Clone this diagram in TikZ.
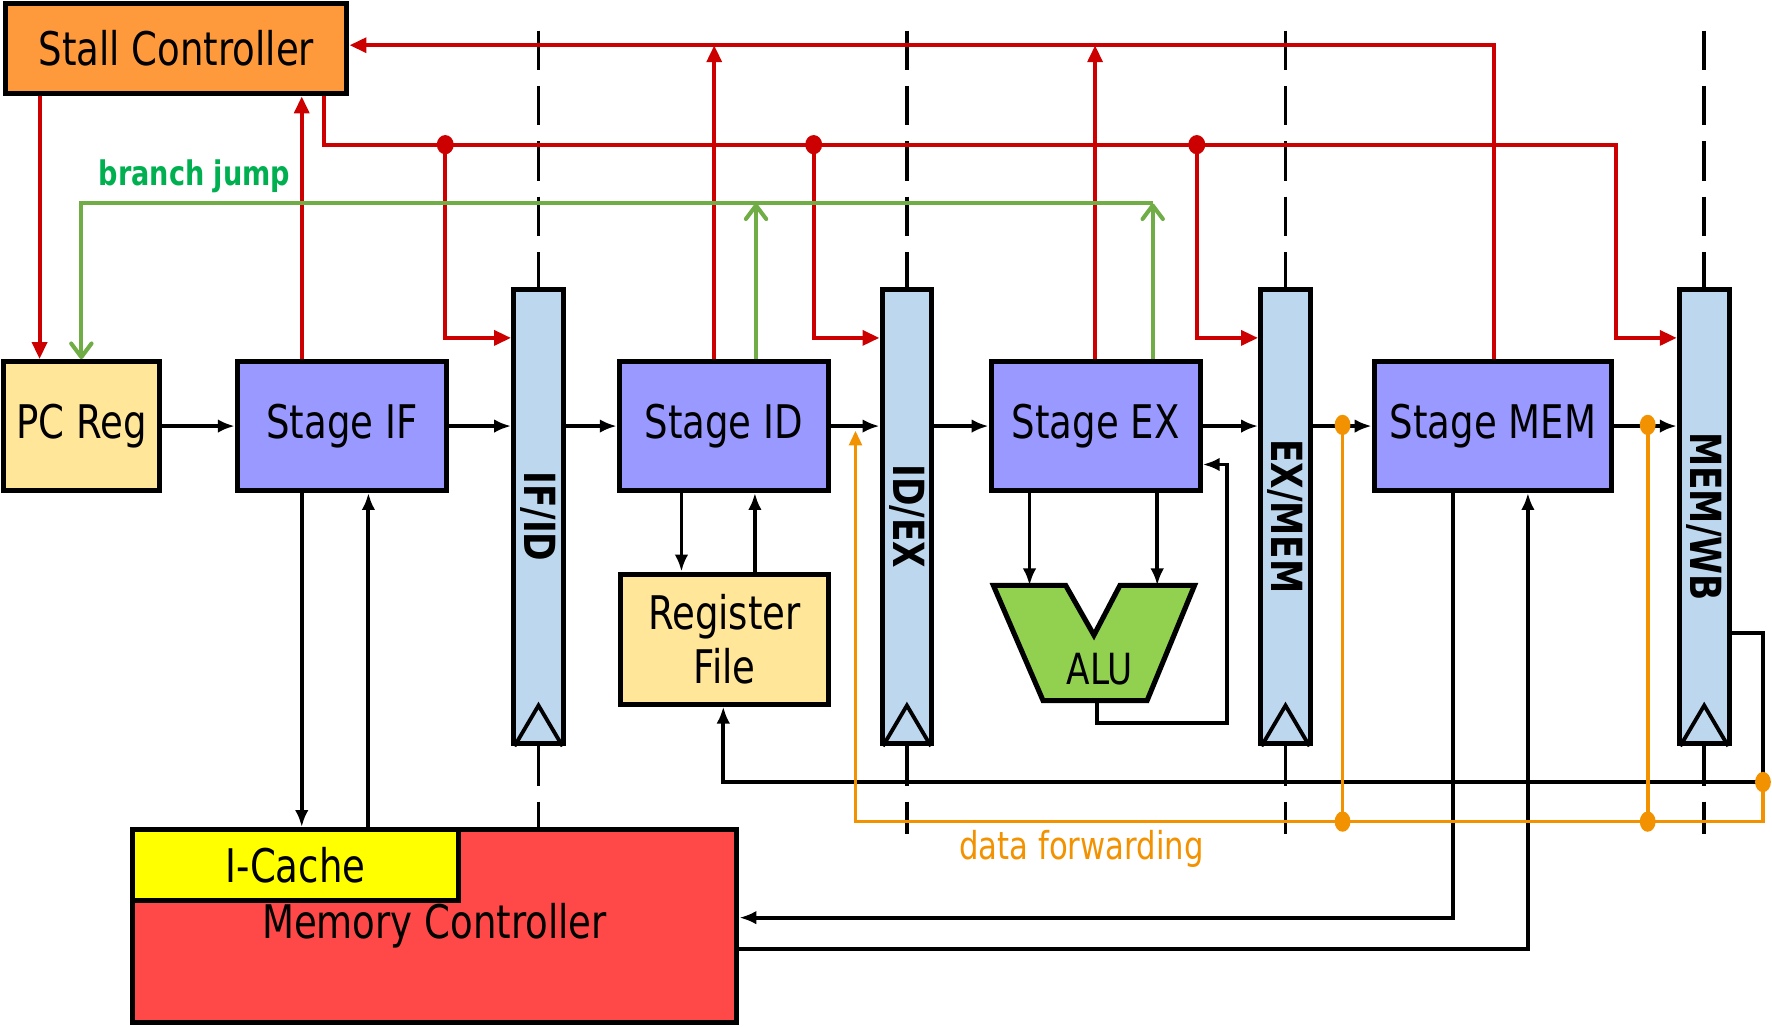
\documentclass[tikz,border=0pt]{standalone}
\usepackage{fontspec}
\setmainfont{DejaVu Sans}[FakeStretch=0.8]
\usetikzlibrary{arrows.meta,calc}
\definecolor{stallC}{HTML}{FF9A3C}
\definecolor{pcC}{HTML}{FFE699}
\definecolor{stageC}{HTML}{9999FF}
\definecolor{regC}{HTML}{BDD7EE}
\definecolor{aluC}{HTML}{92D050}
\definecolor{memC}{HTML}{FF4848}
\definecolor{icC}{HTML}{FFFF00}
\definecolor{redL}{HTML}{CC0000}
\definecolor{grnL}{HTML}{70AD47}
\definecolor{grnT}{HTML}{00B050}
\definecolor{orgL}{HTML}{F39200}
\begin{document}
\begin{tikzpicture}[x=1pt,y=-1pt,
  box/.style={draw=black,line width=4.5pt,inner sep=0pt,font=\fontsize{41}{48}\selectfont,align=center},
  stagebox/.style={box,fill=stageC,minimum width=185pt,minimum height=114pt},
  pipereg/.style={box,fill=regC,minimum width=44pt,minimum height=402pt},
  reglabel/.style={font=\bfseries\fontsize{38}{46}\selectfont,rotate=-90,inner sep=0pt},
  blk/.style={draw=black,line width=3.4pt,-{Latex[length=15pt,width=12pt]}},
  redarr/.style={draw=redL,line width=3.6pt,-{Triangle[length=15pt,width=13pt]}},
  grnarr/.style={draw=grnL,line width=3.6pt,-{Straight Barb[length=12pt,width=18pt,round]}},
  orgline/.style={draw=orgL,line width=3.2pt},
  orgarr/.style={orgline,-{Triangle[length=13pt,width=11pt]}},
  regdash/.style={draw=black,line width=3.4pt,dash pattern=on 35pt off 14pt},
  clk/.style={draw=black,line width=3.4pt,line join=miter},
]
\useasboundingbox (0,0) rectangle (1568,908);

% ---------- nodes ----------
\node[box,fill=stallC,minimum width=302pt,minimum height=80pt] (stall) at (156,43) {Stall Controller};
\node[box,fill=pcC,minimum width=138pt,minimum height=114pt] (pc) at (72,377) {PC Reg};
\node[stagebox] (sif) at (302.5,377) {Stage IF};
\node[stagebox] (sid) at (640.5,377) {Stage ID};
\node[stagebox] (sex) at (969.5,377) {Stage EX};
\node[stagebox,minimum width=210pt] (smem) at (1321,377) {Stage MEM};
\node[box,fill=pcC,minimum width=184pt,minimum height=115pt] (rf) at (641,565.5) {Register\\File};
\node[pipereg] (ifid) at (476.5,457) {};
\node[pipereg] (idex) at (802.5,457) {};
\node[pipereg] (exmem) at (1137.5,457) {};
\node[pipereg] (memwb) at (1508,457) {};
\node[reglabel] (ifidl) at (ifid) {IF/ID};
\node[reglabel] (idexl) at (idex) {ID/EX};
\node[reglabel] (exmeml) at (exmem) {EX/MEM};
\node[reglabel] (memwbl) at (memwb) {MEM/WB};
\foreach \r in {ifid,idex,exmem,memwb}{
  \draw[clk] ($(\r.south west)+(3,0)$) -- ($(\r.south)+(0,-36)$) -- ($(\r.south east)+(-3,0)$);
}
\node[box,fill=memC,minimum width=535pt,minimum height=171pt] (mem) at (384.5,819.5) {Memory Controller};
\node[box,fill=icC,minimum width=289pt,minimum height=63pt] (icache) at (261.5,765.5) {I-Cache};

% ALU
\coordinate (aluA) at (911,518);
\coordinate (aluB) at (1024,518);
\coordinate (aluO) at (971,620);
\draw[line width=4.5pt,fill=aluC,line join=miter] (879,518) -- (943,518) -- (968,562) -- (991,518) -- (1057,518) -- (1015,620) -- (923,620) -- cycle;
\node[font=\fontsize{38}{46}\selectfont,inner sep=0pt] (alu) at (973,592) {ALU};

% ---------- pipeline boundary dashes ----------
\foreach \r in {ifid,idex,exmem,memwb}{
  \draw[regdash] (\r.north |- 0,27) -- (\r.north);
}
\draw[regdash] (ifid.south) -- (ifid.south |- mem.north);
\foreach \r in {idex,exmem,memwb}{
  \draw[regdash] (\r.south) -- (\r.south |- 0,738);
}

% ---------- black datapath ----------
\draw[blk] (pc.east) -- (sif.west);
\draw[blk] (sif.east) -- (ifid.west |- sif.east);
\draw[blk] (ifid.east |- sid.west) -- (sid.west);
\draw[blk] (sid.east) -- (idex.west |- sid.east);
\draw[blk] (idex.east |- sex.west) -- (sex.west);
\draw[blk] (sex.east) -- (exmem.west |- sex.east);
\draw[blk] (exmem.east |- smem.west) -- (smem.west);
\draw[blk] (smem.east) -- (memwb.west |- smem.east);

\draw[blk] (267,0 |- sif.south) -- (267,0 |- icache.north);
\draw[blk] (326,0 |- icache.north) -- (326,0 |- sif.south);
\draw[blk] (603,0 |- sid.south) -- (603,0 |- rf.north);
\draw[blk] (668,0 |- rf.north) -- (668,0 |- sid.south);
\draw[blk] (911,0 |- sex.south) -- (aluA);
\draw[blk] (1024,0 |- sex.south) -- (aluB);
\draw[blk] (aluO) |- (1086,640) |- (sex.east |- 0,411);
\draw[blk] (memwb.east |- 0,560) -| (1560,692) -| (640,0 |- rf.south);
\draw[blk] (1286,0 |- smem.south) |- (mem.east |- 0,812);
\draw[blk] (mem.east |- 0,840) -| (1352,0 |- smem.south);

% ---------- red stall control ----------
\draw[redarr] (35,0 |- stall.south) -- (35,0 |- pc.north);
\draw[redarr] (267,0 |- sif.north) -- (267,0 |- stall.south);
\draw[redarr] (287,0 |- stall.south) |- (1430,128) |- (memwb.west |- 0,299);
\draw[redarr] (394,128) |- (ifid.west |- 0,299);
\draw[redarr] (720,128) |- (idex.west |- 0,299);
\draw[redarr] (1059,128) |- (exmem.west |- 0,299);
\foreach \xx in {394,720,1059}{ \fill[redL] (\xx,128) ellipse [x radius=7.5pt, y radius=8.5pt]; }
\draw[redarr] (1322,0 |- smem.north) |- (stall.east |- 0,40);
\draw[redarr] (632,0 |- sid.north) -- (632,40);
\draw[redarr] (969,0 |- sex.north) -- (969,40);

% ---------- green branch jump ----------
\draw[grnarr] (669,0 |- sid.north) -- (669,180);
\draw[grnarr] (1020,0 |- sex.north) -- (1020,180);
\draw[grnarr] (1020,180) -| (72,0 |- pc.north);
\node[font=\bfseries\fontsize{30}{36}\selectfont,text=grnT,inner sep=0pt] (bj) at (172,156) {branch jump};

% ---------- orange data forwarding ----------
\draw[orgline] (1188,376) -- (1188,727);
\draw[orgline] (1458,376) -- (1458,727);
\draw[orgarr] (1560,692) |- (757,727) -- (757,381);
\foreach \p in {(1188,376),(1188,727),(1458,376),(1458,727),(1560,692)}{
  \fill[orgL] \p ellipse [x radius=7pt, y radius=9pt];
}
\node[font=\fontsize{34}{40}\selectfont,text=orgL,inner sep=0pt] (df) at (957,751) {data forwarding};
\end{tikzpicture}
\end{document}
